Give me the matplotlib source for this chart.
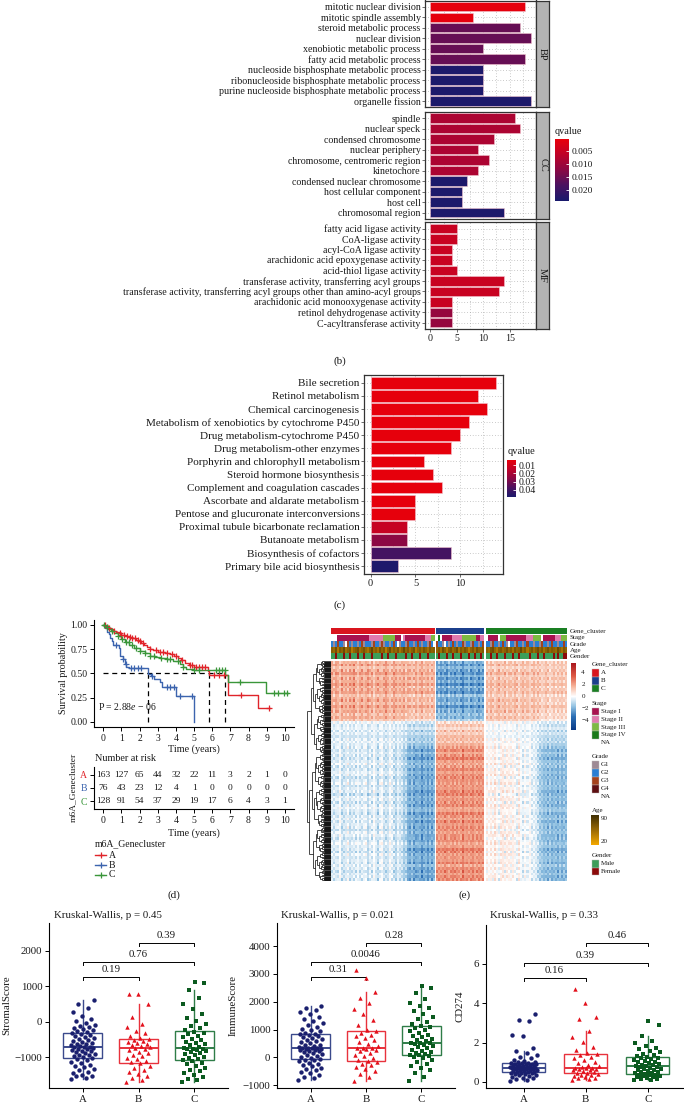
import numpy as np
import matplotlib
matplotlib.use("Agg")
import matplotlib.pyplot as plt
from matplotlib.colors import LinearSegmentedColormap, Normalize, to_rgba
from matplotlib.cm import ScalarMappable
from matplotlib.patches import Rectangle
from matplotlib.collections import LineCollection

plt.rcParams['font.family'] = ['Liberation Serif', 'DejaVu Serif']
plt.rcParams['mathtext.fontset'] = 'custom'
plt.rcParams['mathtext.rm'] = 'Liberation Serif'
plt.rcParams['mathtext.it'] = 'Liberation Serif:italic'

# ======================= DATA =======================
# (b) GO enrichment
bp_terms = ["mitotic nuclear division", "mitotic spindle assembly", "steroid metabolic process",
            "nuclear division", "xenobiotic metabolic process", "fatty acid metabolic process",
            "nucleoside bisphosphate metabolic process", "ribonucleoside bisphosphate metabolic process",
            "purine nucleoside bisphosphate metabolic process", "organelle fission"]
bp_counts = [18, 8, 17, 19, 10, 18, 10, 10, 10, 19]
bp_qvalues = [0.001, 0.001, 0.0155, 0.0155, 0.0155, 0.0155, 0.0235, 0.0235, 0.0235, 0.0235]

cc_terms = ["spindle", "nuclear speck", "condensed chromosome", "nuclear periphery",
            "chromosome, centromeric region", "kinetochore", "condensed nuclear chromosome",
            "host cellular component", "host cell", "chromosomal region"]
cc_counts = [16, 17, 12, 9, 11, 9, 7, 6, 6, 14]
cc_qvalues = [0.0085, 0.0085, 0.0085, 0.0085, 0.0085, 0.0085, 0.0235, 0.0235, 0.0235, 0.0235]

mf_terms = ["fatty acid ligase activity", "CoA-ligase activity", "acyl-CoA ligase activity",
            "arachidonic acid epoxygenase activity", "acid-thiol ligase activity",
            "transferase activity, transferring acyl groups",
            "transferase activity, transferring acyl groups other than amino-acyl groups",
            "arachidonic acid monooxygenase activity", "retinol dehydrogenase activity",
            "C-acyltransferase activity"]
mf_counts = [5, 5, 4, 4, 5, 14, 13, 4, 4, 4]
mf_qvalues = [0.005, 0.005, 0.005, 0.005, 0.005, 0.005, 0.005, 0.005, 0.011, 0.011]
go_qrange = (0.0006, 0.0239)
go_qticks = [0.005, 0.010, 0.015, 0.020]

# (c) KEGG enrichment
kegg_terms = ["Bile secretion", "Retinol metabolism", "Chemical carcinogenesis",
              "Metabolism of xenobiotics by cytochrome P450", "Drug metabolism-cytochrome P450",
              "Drug metabolism-other enzymes", "Porphyrin and chlorophyll metabolism",
              "Steroid hormone biosynthesis", "Complement and coagulation cascades",
              "Ascorbate and aldarate metabolism", "Pentose and glucuronate interconversions",
              "Proximal tubule bicarbonate reclamation", "Butanoate metabolism",
              "Biosynthesis of cofactors", "Primary bile acid biosynthesis"]
kegg_counts = [14, 12, 13, 11, 10, 9, 6, 7, 8, 5, 5, 4, 4, 9, 3]
kegg_qvalues = [0.0045, 0.0045, 0.0045, 0.0045, 0.0045, 0.0045, 0.0045, 0.0045, 0.0045,
                0.0045, 0.0045, 0.013, 0.026, 0.039, 0.048]
kegg_qrange = (0.0039, 0.049)
kegg_qticks = [0.01, 0.02, 0.03, 0.04]

# (d) Kaplan-Meier
km_A_time = [0, 0.12, 0.25, 0.4, 0.55, 0.7, 0.85, 1.0, 1.2, 1.4, 1.6, 1.8, 1.95, 2.1, 2.25, 2.4,
             2.55, 2.75, 3.0, 3.4, 3.7, 3.9, 4.1, 4.3, 4.5, 4.7, 5.0, 5.78, 5.85, 6.88, 8.55]
km_A_surv = [1.0, 0.985, 0.97, 0.955, 0.94, 0.925, 0.91, 0.895, 0.885, 0.875, 0.86, 0.845, 0.83,
             0.815, 0.795, 0.775, 0.75, 0.735, 0.72, 0.71, 0.695, 0.675, 0.655, 0.635, 0.61, 0.59,
             0.56, 0.52, 0.48, 0.28, 0.145]
km_A_end = 9.2
km_A_censor = [0.1, 0.3, 0.6, 0.9, 1.0, 1.15, 1.3, 1.45, 1.6, 1.75, 1.9, 2.05, 2.2, 2.6, 2.9, 3.1,
               3.3, 3.5, 3.8, 4.0, 4.35, 4.75, 4.9, 5.1, 5.3, 5.45, 5.6, 6.1, 6.4, 6.65, 7.6, 9.15]

km_B_time = [0, 0.12, 0.22, 0.3, 0.38, 0.47, 0.55, 0.88, 0.93, 1.07, 1.2, 1.27, 1.4, 2.48, 2.64,
             2.82, 3.1, 3.25, 4.02, 5.02]
km_B_surv = [1.0, 0.97, 0.93, 0.9, 0.86, 0.83, 0.79, 0.76, 0.68, 0.645, 0.6, 0.57, 0.55, 0.49, 0.47,
             0.445, 0.41, 0.36, 0.27, 0.0]
km_B_end = 5.02
km_B_censor = [0.7, 1.1, 1.25, 1.5, 1.7, 1.9, 2.1, 2.7, 3.5, 3.7, 3.9, 4.2, 4.9]

km_C_time = [0, 0.1, 0.25, 0.42, 0.6, 0.8, 1.0, 1.2, 1.44, 1.7, 2.0, 2.3, 2.55, 2.85, 3.1, 3.5,
             3.84, 4.2, 4.4, 4.58, 5.0, 6.72, 6.88, 8.95]
km_C_surv = [1.0, 0.98, 0.96, 0.94, 0.91, 0.88, 0.85, 0.82, 0.79, 0.76, 0.73, 0.705, 0.68, 0.665,
             0.655, 0.645, 0.63, 0.60, 0.57, 0.545, 0.53, 0.48, 0.41, 0.30]
km_C_end = 10.2
km_C_censor = [0.05, 0.2, 0.5, 0.8, 1.05, 1.25, 1.4, 1.6, 1.8, 2.0, 2.3, 2.6, 2.8, 3.2, 3.5, 3.7,
               4.1, 4.4, 5.0, 5.3, 6.2, 6.4, 6.55, 6.7, 7.55, 9.4, 9.6, 9.95, 10.1]
km_pvalue_text = "P = 2.88$e$ \u2212 06"

risk_times = [0, 1, 2, 3, 4, 5, 6, 7, 8, 9, 10]
risk_A = [163, 127, 65, 44, 32, 22, 11, 3, 2, 1, 0]
risk_B = [76, 43, 23, 12, 4, 1, 0, 0, 0, 0, 0]
risk_C = [128, 91, 54, 37, 29, 19, 17, 6, 4, 3, 1]

# (e) heatmap: column (sample) scores and row (gene) loadings, per cluster
hm_c1_A = [1.2, 0.9, 1.3, 1.1, 0.8, 1.4, 1.0, 1.2, 0.9, 1.3,
           1.1, 1.5, 1.0, 0.8, 1.2, 1.3, 0.9, 1.1, 1.4, 1.0,
           1.2, 0.7, 1.1, 1.3, 1.0, 0.9, 1.2, 1.4, 1.1, 0.8,
           1.0, 1.3, 1.2, 0.9, 1.1, 1.0, 1.3, 0.8, 1.2, 1.1,
           0.9, 1.0, 1.2, 0.8, 1.1, 1.3, 0.9, 1.0, 1.2, 0.8,
           1.1, 1.0]
hm_c2_A = [0.5, 0.2, 0.6, 0.3, 0.7, 0.4, 0.1, 0.5, 0.6, 0.3,
           0.4, 0.8, 0.2, 0.5, 0.3, 0.6, 0.4, 0.7, 0.2, 0.5,
           0.3, 0.6, 0.4, 0.1, 0.5, 0.7, 0.3, 0.4, 0.2, 0.6,
           0.5, 0.3, 0.0, 0.4, 0.2, 0.1, -0.2, -0.4, -0.9, -1.2,
           -0.8, -1.4, -1.1, -1.3, -0.9, -1.5, -1.2, -1.0, -1.4, -1.1,
           -1.3, -0.9]
hm_c3_A = [0.5, -0.8, 0.3, 0.7, -0.4, -0.9, 0.6, -0.3, 0.8, -0.6,
           0.4, -0.7, 0.9, -0.2, 0.5, -0.8, 0.3, 0.6, -0.5, -0.7,
           0.8, -0.4, 0.2, -0.9, 0.6, 0.4, -0.6, 0.7, -0.3, 0.5,
           -0.8, 0.9, -0.5, 0.3, -0.6, 0.7, -0.4, 0.8, -0.2, -0.7,
           0.5, -0.9, 0.6, 0.3, -0.5, 0.8, -0.6, 0.4, -0.3, 0.7,
           -0.8, 0.5]
hm_c1_B = [-1.5, -1.2, -1.6, -1.3, -1.4, -1.7, -1.1, -1.5, -1.3, -1.6,
           -1.4, -1.2, -1.5, -1.8, -1.3, -1.4, -1.1, -1.6, -1.5, -1.2,
           -1.4, -1.7, -1.3, -1.5]
hm_c2_B = [0.9, 1.1, 0.7, 1.0, 1.2, 0.8, 1.0, 0.9, 1.3, 0.8,
           1.1, 1.0, 0.7, 1.2, 0.9, 1.0, 1.1, 0.8, 1.2, 0.9,
           1.0, 0.8, 1.1, 0.9]
hm_c3_B = [-0.6, 0.8, -0.3, 0.5, -0.9, 0.4, 0.7, -0.5, 0.3, -0.8,
           0.6, -0.4, 0.9, -0.7, 0.2, 0.5, -0.6, 0.8, -0.3, 0.4,
           -0.9, 0.6, -0.5, 0.7]
hm_c1_C = [0.9, 0.7, 1.0, 0.8, 0.6, 0.9, 1.1, 0.7, 0.8, 1.0,
           0.6, 0.9, 0.8, 0.7, 1.0, 0.9, 0.5, 0.8, 1.0, 0.7,
           0.9, 0.6, 0.8, 1.0, 0.7, 0.9, 0.8, 0.6, 0.7, 0.9,
           0.8, 0.5, 0.7, 0.9, 0.6, 0.8, 0.7, 0.9, 0.6, 0.8]
hm_c2_C = [1.0, 0.7, 1.2, 0.8, 1.1, 0.9, 0.6, 1.0, 1.2, 0.8,
           0.9, 1.1, 0.7, 1.0, 0.8, 0.5, 0.9, 0.6, 0.3, 0.7,
           0.4, 0.6, 0.2, 0.5, 0.1, -0.2, -0.6, -0.9, -1.1, -0.8,
           -1.2, -1.0, -1.3, -0.9, -1.1, -1.4, -0.8, -1.2, -1.0, -1.1]
hm_c3_C = [0.7, -0.5, 0.4, -0.8, 0.6, 0.3, -0.7, 0.5, -0.4, 0.9,
           -0.6, 0.2, 0.8, -0.5, 0.4, -0.9, 0.6, -0.3, 0.7, -0.6,
           0.5, 0.3, -0.8, 0.4, -0.5, 0.9, -0.7, 0.6, -0.2, 0.5,
           -0.8, 0.7, -0.4, 0.3, -0.6, 0.8, -0.5, 0.4, -0.7, 0.6]
hm_r1 = [1.4, 1.8, 1.2, 1.6, 1.9, 1.3, 1.7, 1.5, 2.0, 1.4,
         1.6, 1.8, 1.1, 1.5, 1.7, 1.3, 1.9, 1.4, 1.6, 1.2,
         1.5, 1.0, -0.3, -0.6, -0.4, -0.7, -0.5, -0.8, -0.6, -0.5,
         -0.7, -0.8, -1.0, -0.7, -0.9, -1.1, -0.8, -0.6, -0.9, -1.0,
         -0.7, -0.8, -1.1, -0.9, -0.7, -1.0, -0.8, -0.9, -1.2, -0.7,
         -0.8, -1.0, -0.9, -0.6, -0.8, -1.1, -0.9, -0.7, -1.0, -0.8,
         -0.9, -1.1, -0.7, -0.8, -1.0, -0.9, -0.6, -0.8, -1.0, -1.1,
         -0.7, -0.9, -0.8, -1.0, -0.7, -0.9, -1.1, -0.8, -0.9, -1.0]
hm_r2 = [0.0, 0.1, -0.1, 0.0, 0.1, 0.0, -0.1, 0.1, 0.0, 0.2,
         0.0, -0.1, 0.1, 0.0, 0.2, 0.1, 0.0, 0.1, 0.2, 0.1,
         0.2, 0.3, 0.3, 0.4, 0.2, 0.5, 0.3, 0.4, 0.6, 0.5,
         0.7, 0.9, 1.1, 0.8, 1.0, 1.2, 0.9, 1.0, 0.8, 1.1,
         1.0, 1.2, 0.9, 1.0, 1.1, 0.8, 1.0, 1.3, 0.9, 1.0,
         1.1, 0.9, 1.2, 1.0, 0.8, 1.1, 1.0, 0.9, 1.2, 1.0,
         1.1, 0.8, 1.0, 1.2, 0.9, 1.1, 1.0, 0.9, 1.3, 1.0,
         1.1, 0.9, 1.0, 1.2, 0.8, 1.1, 1.0, 0.9, 1.2, 1.0]
hm_r3 = [0.6, -0.4, 0.3, -0.7, 0.5, 0.2, -0.6, 0.4, -0.3, 0.7,
         -0.5, 0.3, 0.6, -0.2, -0.6, 0.5, -0.4, 0.2, 0.7, -0.5,
         0.4, -0.3, -0.6, 0.5, 0.3, -0.7, 0.4, -0.2, 0.6, -0.5,
         0.3, 0.7, -0.4, 0.2, -0.6, 0.5, -0.3, 0.6, -0.7, 0.4,
         -0.2, 0.5, -0.6, 0.3, 0.7, -0.4, 0.2, -0.5, 0.6, -0.3,
         0.4, -0.7, 0.5, -0.2, 0.3, 0.6, -0.5, 0.4, -0.6, 0.2,
         0.7, -0.3, 0.5, -0.4, -0.6, 0.3, 0.6, -0.2, 0.4, -0.7,
         0.5, -0.3, 0.2, 0.6, -0.5, 0.4, -0.6, 0.3, -0.4, 0.7]
hm_range = (-5.6, 5.6)
hm_ticks = [-4, -2, 0, 2, 4]

stage_runs_A = [("N", 3), ("I", 16), ("II", 7), ("III", 6), ("I", 3), ("N", 1), ("II", 1), ("I", 10), ("II", 3), ("III", 2)]
stage_runs_B = [("N", 1), ("IV", 1), ("N", 1), ("I", 5), ("II", 5), ("III", 7), ("I", 2), ("II", 2)]
stage_runs_C = [("N", 1), ("I", 5), ("N", 1), ("III", 3), ("I", 10), ("II", 3), ("III", 4), ("N", 1), ("I", 6), ("II", 3), ("III", 3)]
grade_A = "2123221N3212212312221322131221232N12213221232122132"
grade_B = "3221N212321223122132" + "2123"
grade_C = "2213221232" + "1N22132212" + "3221221322" + "1232212232"
age_A = [62, 55, 70, 48, 66, 59, 73, 52, 61, 67, 45, 58, 64, 71, 53, 60, 68, 57, 49, 63,
         75, 56, 62, 51, 69, 58, 65, 44, 60, 72, 54, 63, 57, 67, 50, 61, 74, 59, 66, 53,
         62, 70, 47, 58, 64, 55, 68, 61, 52, 66, 59, 63]
age_B = [58, 66, 52, 71, 60, 47, 63, 69, 55, 62, 73, 50, 64, 57, 68, 61, 45, 59, 66, 54,
         70, 62, 57, 65]
age_C = [60, 53, 67, 72, 58, 49, 63, 66, 55, 61, 70, 57, 64, 51, 68, 59, 62, 74, 56, 65,
         48, 60, 67, 54, 63, 71, 58, 66, 52, 61, 69, 57, 64, 60, 55, 73, 62, 50, 66, 59]
gender_A = "MMFMMMFMMF" + "MMMFMMFMMM" + "FMMMMFMMFM" + "MMFMMMMFMM" + "FMMMFMMMFM" + "MM"
gender_B = "MFMMMFMMFM" + "MMFMMMFMMF" + "MMFM"
gender_C = "MMFMMFMMMF" + "MMMFMMFMMM" + "MFMMMFMMFM" + "MMMFMFMMFF"

# (f) boxplots
box_groups = ["A", "B", "C"]
stromal_A = [-1600, -1575, -1540, -1520, -1490, -1450, -1405, -1370, -1330, -1290, -1255, -1210, -1175, -1130, -1090, -1050,
             -1020, -995, -975, -950, -925, -905, -880, -860, -835, -815, -795, -775, -760, -740, -725, -712,
             -705, -690, -665, -640, -615, -590, -560, -535, -505, -480, -455, -425, -395, -370, -340, -310,
             -290, -265, -240, -215, -190, -160, -120, -80, -30, 20, 90, 170, 260, 380, 500, 620]
stromal_B = [-1690, -1640, -1580, -1530, -1470, -1420, -1360, -1300, -1240, -1170,
             -1145, -1100, -1060, -1010, -970, -925, -880, -840, -800, -765,
             -735, -705, -680, -650, -625, -600, -570, -545, -515, -485,
             -460, -400, -330, -250, -160, -60, 120, 490, 770, 790]
stromal_C = [-1690, -1650, -1600, -1550, -1500, -1450, -1400, -1350, -1300, -1250, -1200, -1150, -1110,
             -1085, -1050, -1015, -985, -950, -915, -885, -850, -820, -795, -775, -760,
             -755, -745, -700, -665, -630, -595, -560, -520, -480, -440, -400, -360, -320,
             -285, -240, -190, -130, -60, 20, 110, 220, 350, 500, 660, 900, 1100, 1120]
immune_A = [-800, -760, -700, -640, -580, -520, -470, -420, -370, -320, -270, -230, -190, -150, -110, -80,
            -60, -20, 20, 60, 100, 130, 160, 190, 215, 240, 260, 280, 300, 310, 318, 322,
            326, 345, 370, 400, 430, 460, 500, 540, 580, 620, 660, 700, 740, 780, 810, 825,
            835, 880, 930, 980, 1030, 1090, 1150, 1220, 1300, 1380, 1460, 1540, 1620, 1700, 1780, 1860]
immune_B = [-850, -720, -600, -500, -420, -350, -290, -230, -180, -150,
            -110, -20, 40, 100, 160, 210, 260, 300, 330, 340,
            352, 400, 470, 540, 610, 680, 750, 820, 890, 950,
            980, 1150, 1350, 1550, 1750, 1950, 2150, 2360, 2850, 3150]
immune_C = [-850, -700, -580, -470, -380, -300, -230, -160, -100, -40, 10, 45, 70,
            87, 120, 160, 200, 240, 280, 320, 360, 400, 440, 470, 500,
            520, 530, 570, 620, 670, 720, 770, 820, 880, 940, 1000, 1050, 1090,
            1120, 1180, 1280, 1370, 1460, 1560, 1660, 1760, 1860, 1960, 2100, 2300, 2480, 2565]
cd274_A = [0.06, 0.10, 0.14, 0.18, 0.22, 0.26, 0.30, 0.33, 0.36, 0.39, 0.42, 0.44, 0.46, 0.48, 0.50, 0.51,
           0.53, 0.55, 0.57, 0.59, 0.61, 0.63, 0.64, 0.66, 0.67, 0.68, 0.69, 0.70, 0.71, 0.72, 0.725, 0.73,
           0.735, 0.75, 0.77, 0.78, 0.80, 0.82, 0.83, 0.85, 0.86, 0.88, 0.89, 0.90, 0.91, 0.93, 0.94, 0.945,
           0.96, 0.99, 1.03, 1.08, 1.14, 1.20, 1.27, 1.35, 1.45, 1.55, 1.75, 2.35, 2.40, 3.10, 3.15, 3.45]
cd274_B = [0.10, 0.14, 0.18, 0.22, 0.26, 0.30, 0.34, 0.37, 0.40, 0.44,
           0.48, 0.52, 0.56, 0.60, 0.63, 0.66, 0.68, 0.70, 0.71, 0.72,
           0.74, 0.80, 0.88, 0.96, 1.04, 1.12, 1.20, 1.28, 1.35, 1.41,
           1.45, 1.60, 1.80, 2.05, 2.30, 2.60, 3.20, 3.30, 4.00, 4.70]
cd274_C = [0.08, 0.11, 0.14, 0.17, 0.20, 0.23, 0.26, 0.29, 0.32, 0.34, 0.36, 0.38, 0.40,
           0.44, 0.47, 0.50, 0.53, 0.56, 0.59, 0.62, 0.65, 0.68, 0.71, 0.74, 0.76,
           0.79, 0.81, 0.84, 0.88, 0.92, 0.96, 1.00, 1.04, 1.08, 1.12, 1.16, 1.20, 1.23,
           1.26, 1.30, 1.36, 1.42, 1.50, 1.58, 1.66, 1.75, 1.85, 1.97, 2.10, 2.35, 2.90, 3.10]
stromal_title = "Kruskal-Wallis, p = 0.45"
immune_title = "Kruskal-Wallis, p = 0.021"
cd274_title = "Kruskal-Wallis, p = 0.33"
stromal_pairs = [("A", "B", 1251, "0.19"), ("A", "C", 1690, "0.76"), ("B", "C", 2208, "0.39")]
immune_pairs = [("A", "B", 2899, "0.31"), ("A", "C", 3439, "0.0046"), ("B", "C", 4100, "0.28")]
cd274_pairs = [("A", "B", 5.26, "0.16"), ("A", "C", 6.03, "0.39"), ("B", "C", 7.04, "0.46")]

# ======================= FIGURE =======================
W, H = 684, 1103
fig = plt.figure(figsize=(W / 100, H / 100), dpi=100)
fig.patch.set_facecolor("white")


def px_ax(l, t, r, b):
    return fig.add_axes([l / W, 1 - b / H, (r - l) / W, (b - t) / H])


ov = px_ax(0, 0, W, H)
ov.set_xlim(0, W)
ov.set_ylim(H, 0)
ov.axis("off")
ov.set_zorder(10)
ov.patch.set_visible(False)

q_cmap = LinearSegmentedColormap.from_list(
    "q", [(0, "#E8000B"), (0.25, "#BE0228"), (0.5, "#8A0844"), (0.75, "#4A1260"), (1, "#1A1A6C")])
TXT = "#1a1a1a"
FRAME = "#333333"


def style_frame(ax):
    for s in ax.spines.values():
        s.set_color(FRAME)
        s.set_linewidth(0.9)


def enrich_bars(ax, terms, counts, qv, norm, xlim, xt, xminor, fs):
    n = len(terms)
    y = np.arange(n)
    ax.barh(y, counts, height=0.9, color=q_cmap(norm(np.array(qv))),
            edgecolor="#F2C4CE", linewidth=0.4, zorder=3)
    ax.set_xlim(*xlim)
    ax.set_ylim(n - 0.4, -0.6)
    ax.set_xticks(xt)
    ax.set_xticks(xminor, minor=True)
    ax.grid(True, which="both", axis="x", color="#9a9a9a", lw=0.5, ls=(0, (1, 3)))
    ax.grid(True, which="major", axis="y", color="#9a9a9a", lw=0.5, ls=(0, (1, 3)))
    ax.set_axisbelow(True)
    ax.set_yticks(y)
    ax.set_yticklabels(terms, fontsize=fs, color=TXT)
    ax.tick_params(axis="both", which="major", length=2, width=0.5, pad=1.5, color=FRAME)
    ax.tick_params(axis="x", which="minor", length=0)
    style_frame(ax)


def q_colorbar(ext, norm, ticks, fmt, fs):
    cax = px_ax(*ext)
    cb = fig.colorbar(ScalarMappable(norm=norm, cmap=q_cmap), cax=cax)
    cb.set_ticks(ticks)
    cb.set_ticklabels([fmt.format(v) for v in ticks])
    cb.outline.set_visible(False)
    cax.invert_yaxis()
    cax.tick_params(labelsize=fs, length=2.5, width=0.6, color="white", direction="in", pad=2, labelcolor=TXT)
    return cax


# ---------- (b) ----------
go_norm = Normalize(*go_qrange)
facets = [("BP", bp_terms, bp_counts, bp_qvalues, 0.5, 107.3),
          ("CC", cc_terms, cc_counts, cc_qvalues, 111.7, 219.0),
          ("MF", mf_terms, mf_counts, mf_qvalues, 222.3, 329.0)]
for k, (lab, terms, counts, qv, t, b) in enumerate(facets):
    ax = px_ax(425.4, t, 535.8, b)
    enrich_bars(ax, terms, counts, qv, go_norm, (-0.95, 19.95), [0, 5, 10, 15], [2.5, 7.5, 12.5, 17.5], 7.2)
    if k < 2:
        ax.tick_params(axis="x", labelbottom=False, length=0)
    else:
        ax.tick_params(axis="x", labelsize=7.2, labelcolor=TXT)
    sax = px_ax(536.3, t, 549.0, b)
    sax.set_facecolor("#B3B3B3")
    sax.set_xticks([])
    sax.set_yticks([])
    style_frame(sax)
    sax.text(0.5, 0.5, lab, rotation=-90, ha="center", va="center", fontsize=7.5,
             color=TXT, transform=sax.transAxes)

q_colorbar((555, 139.3, 568.5, 200.7), go_norm, go_qticks, "{:.3f}", 6.8)
ov.text(555, 131, "qvalue", fontsize=7.3, ha="left", va="center", color=TXT)
ov.text(340, 361, "(b)", fontsize=8, ha="center", va="center", color=TXT)

# ---------- (c) ----------
kegg_norm = Normalize(*kegg_qrange)
ax = px_ax(364.3, 375, 502.6, 574)
enrich_bars(ax, kegg_terms, kegg_counts, kegg_qvalues, kegg_norm, (-0.7, 14.7), [0, 5, 10], [2.5, 7.5, 12.5], 8)
ax.tick_params(axis="x", labelsize=7.5, labelcolor=TXT)
q_colorbar((507.4, 460, 516, 497.3), kegg_norm, kegg_qticks, "{:.2f}", 7)
ov.text(507.4, 451.7, "qvalue", fontsize=7.5, ha="left", va="center", color=TXT)
ov.text(340, 605, "(c)", fontsize=8, ha="center", va="center", color=TXT)

# ---------- (d) ----------
km_colors = {"A": "#E0242A", "B": "#3C64AE", "C": "#3A963A"}
km_data = {"A": (km_A_time, km_A_surv, km_A_end, km_A_censor),
           "B": (km_B_time, km_B_surv, km_B_end, km_B_censor),
           "C": (km_C_time, km_C_surv, km_C_end, km_C_censor)}
kax = px_ax(94.2, 619.9, 293.9, 726.7)
medians = []
for g in ["A", "B", "C"]:
    tt, ss, tend, cens = km_data[g]
    tt = np.array(tt, float)
    ss = np.array(ss, float)
    kax.step(np.append(tt, tend), np.append(ss, ss[-1]), where="post", color=km_colors[g], lw=1.0, zorder=3)
    ci = np.searchsorted(tt, np.array(cens), side="right") - 1
    kax.plot(cens, ss[ci], "+", ms=4, mew=0.9, color=km_colors[g], zorder=4)
    below = np.where(ss <= 0.5)[0]
    if len(below):
        medians.append(tt[below[0]])
kax.hlines(0.5, 0, max(medians), colors="k", linestyles=(0, (4, 3)), lw=0.9, zorder=2)
kax.vlines(medians, 0, 0.5, colors="k", linestyles=(0, (4, 3)), lw=0.9, zorder=2)
kax.text(-0.3, 0.16, km_pvalue_text, fontsize=7, ha="left", va="center", color=TXT)
kax.set_xlim(-0.5, 10.5)
kax.set_ylim(-0.05, 1.05)
kax.set_xticks(risk_times)
kax.set_yticks([0, 0.25, 0.5, 0.75, 1.0])
kax.set_yticklabels(["0.00", "0.25", "0.50", "0.75", "1.00"])
kax.spines["top"].set_visible(False)
kax.spines["right"].set_visible(False)
for s in ["left", "bottom"]:
    kax.spines[s].set_linewidth(0.8)
kax.tick_params(labelsize=7, length=3, width=0.7, pad=2, labelcolor=TXT)
ov.text(63, 673, "Survival probability", rotation=90, fontsize=7.3, ha="center", va="center", color=TXT)
ov.text(194, 749.3, "Time (years)", fontsize=7.3, ha="center", va="center", color=TXT)

rax = px_ax(94.2, 767.3, 293.9, 809.3)
risk = {"A": risk_A, "B": risk_B, "C": risk_C}
rpos = {"A": 2, "B": 1, "C": 0}
for g in ["A", "B", "C"]:
    for t, n in zip(risk_times, risk[g]):
        rax.text(t, rpos[g], str(n), ha="center", va="center", fontsize=6.8, color=TXT)
rax.set_xlim(-0.5, 10.5)
rax.set_ylim(-0.62, 2.55)
rax.set_xticks(risk_times)
rax.set_yticks([2, 1, 0])
rax.set_yticklabels(["A", "B", "C"])
for lbl, g in zip(rax.get_yticklabels(), ["A", "B", "C"]):
    lbl.set_color(km_colors[g])
rax.spines["top"].set_visible(False)
rax.spines["right"].set_visible(False)
for s in ["left", "bottom"]:
    rax.spines[s].set_linewidth(0.8)
rax.tick_params(labelsize=7, length=3, width=0.7, pad=2)
rax.tick_params(axis="x", labelcolor=TXT)
ov.text(95, 758.7, "Number at risk", fontsize=7.3, ha="left", va="center", color=TXT)
ov.text(194, 832.7, "Time (years)", fontsize=7.3, ha="center", va="center", color=TXT)
ov.text(72.7, 787, "m6A_Genecluster", rotation=90, fontsize=6.8, ha="center", va="center", color=TXT)
ov.text(95, 843.3, "m6A_Genecluster", fontsize=7, ha="left", va="center", color=TXT)
for g, yy in zip(["A", "B", "C"], [855.3, 865.3, 874.7]):
    ov.plot([95, 106], [yy, yy], color=km_colors[g], lw=1.0)
    ov.plot([100.5], [yy], "+", ms=4, mew=0.9, color=km_colors[g])
    ov.text(109, yy, g, fontsize=7, ha="left", va="center", color=TXT)
ov.text(173.6, 895, "(d)", fontsize=8, ha="center", va="center", color=TXT)

# ---------- (e) heatmap ----------
hm_cmap = LinearSegmentedColormap.from_list(
    "hm", [(0, "#0A3A86"), (0.2, "#2C6FB5"), (0.35, "#92C2E2"), (0.5, "#FFFFFF"),
           (0.65, "#F6B49A"), (0.8, "#DE5A45"), (1, "#A8151C")])
hm_norm = Normalize(*hm_range)
cluster_colors = {"A": "#D9151E", "B": "#1B3F8C", "C": "#1A7F23"}
stage_colors = {"I": "#A8124F", "II": "#E07AAE", "III": "#7DBA42", "IV": "#1A7A1A", "N": "#FFFFFF"}
grade_colors = {"1": "#9E8A95", "2": "#2A7FD4", "3": "#A4421C", "4": "#5E0F12", "N": "#FFFFFF"}
gender_colors = {"M": "#3C9E5A", "F": "#8C0A0A"}
age_cmap = LinearSegmentedColormap.from_list("age", ["#F3A800", "#9A6A06", "#3F2F02"])
age_norm = Normalize(20, 90)

hm_groups = [("A", hm_c1_A, hm_c2_A, hm_c3_A, stage_runs_A, grade_A, age_A, gender_A, 330.7, 434.3),
             ("B", hm_c1_B, hm_c2_B, hm_c3_B, stage_runs_B, grade_B, age_B, gender_B, 435.7, 483.7),
             ("C", hm_c1_C, hm_c2_C, hm_c3_C, stage_runs_C, grade_C, age_C, gender_C, 486.0, 566.7)]
ann_rows = [("Gene_cluster", 628.3, 634.0), ("Stage", 634.7, 640.7), ("Grade", 641.3, 647.0),
            ("Age", 647.7, 652.9), ("Gender", 653.6, 659.2)]
HM_TOP, HM_BOT = 660.7, 880.7
r1 = np.array(hm_r1)
r2 = np.array(hm_r2)
r3 = np.array(hm_r3)
for g, c1, c2, c3, sruns, grade, ages, gender, x0, x1 in hm_groups:
    n = len(c1)
    ax = px_ax(x0, 628.3, x1, HM_BOT)
    vals = (np.outer(r1, np.array(c1)) + np.outer(r2, np.array(c2))
            + np.outer(r3, np.array(c3)))
    ax.imshow(vals, cmap=hm_cmap, norm=hm_norm, extent=(0, n, HM_BOT, HM_TOP),
              aspect="auto", interpolation="nearest")
    stage_seq = [s for s, k in sruns for _ in range(k)]
    rows = [
        [to_rgba(cluster_colors[g])] * n,
        [to_rgba(stage_colors[s]) for s in stage_seq][:n],
        [to_rgba(grade_colors[c]) for c in grade][:n],
        [age_cmap(age_norm(a)) for a in ages][:n],
        [to_rgba(gender_colors[c]) for c in gender][:n],
    ]
    for colors, (_, yt, yb) in zip(rows, ann_rows):
        arr = np.array(colors)[None, :, :]
        ax.imshow(arr, extent=(0, len(colors), yb, yt), aspect="auto", interpolation="nearest")
    ax.set_xlim(0, n)
    ax.set_ylim(HM_BOT, 628.3)
    ax.axis("off")
for name, yt, yb in ann_rows:
    ov.text(569.5, (yt + yb) / 2, name, fontsize=5, ha="left", va="center", color=TXT)

# dendrogram of genes
dax = px_ax(306.7, HM_TOP, 330.7, HM_BOT)
dend_leaves = 400
split_fracs = [0.42, 0.58, 0.47, 0.63, 0.36, 0.52, 0.55, 0.44]
segs = []


def build(lo, hi, depth):
    if hi - lo == 1:
        return lo + 0.5, 0.0
    f = split_fracs[depth % len(split_fracs)]
    mid = lo + min(max(1, int(round((hi - lo) * f))), hi - lo - 1)
    y1, h1 = build(lo, mid, depth + 1)
    y2, h2 = build(mid, hi, depth + 1)
    h = 8.0 + np.log2(hi - lo) ** 1.5
    segs.extend([[(h1, y1), (h, y1)], [(h2, y2), (h, y2)], [(h, y1), (h, y2)]])
    return (y1 + y2) / 2, h


_, htop = build(0, dend_leaves, 0)
dax.add_collection(LineCollection(segs, colors="k", linewidths=0.5))
dax.set_xlim(htop * 1.01, 0)
dax.set_ylim(dend_leaves, 0)
dax.axis("off")

cax = px_ax(571, 662.7, 575.7, 730)
cb = fig.colorbar(ScalarMappable(norm=hm_norm, cmap=hm_cmap), cax=cax)
cb.set_ticks(hm_ticks)
cb.set_ticklabels([str(v).replace("-", "\u2212") for v in hm_ticks])
cb.outline.set_visible(False)
cax.tick_params(labelsize=5, length=0, pad=4, labelcolor=TXT)

# legends
LX, LW_ = 591.7, 7.3


def leg_box(yc, color):
    ov.add_patch(Rectangle((LX, yc - 3.8), LW_, 7.6, facecolor=color, edgecolor="#bbbbbb", lw=0.3))


ov.text(LX, 664.3, "Gene_cluster", fontsize=5, ha="left", va="center", color=TXT)
for g, yc in zip(["A", "B", "C"], [673.0, 680.8, 688.5]):
    leg_box(yc, cluster_colors[g])
    ov.text(600.9, yc, g, fontsize=5, ha="left", va="center", color=TXT)
ov.text(LX, 703.3, "Stage", fontsize=5, ha="left", va="center", color=TXT)
for s, yc in zip(["I", "II", "III", "IV"], [711.5, 719.3, 727.1, 734.9]):
    leg_box(yc, stage_colors[s])
    ov.text(600.9, yc, "Stage " + s, fontsize=5, ha="left", va="center", color=TXT)
ov.text(600.9, 742.7, "NA", fontsize=5, ha="left", va="center", color=TXT)
ov.text(LX, 756.7, "Grade", fontsize=5, ha="left", va="center", color=TXT)
for s, yc in zip(["1", "2", "3", "4"], [765.0, 773.0, 781.0, 789.0]):
    leg_box(yc, grade_colors[s])
    ov.text(600.9, yc, "G" + s, fontsize=5, ha="left", va="center", color=TXT)
ov.text(600.9, 797, "NA", fontsize=5, ha="left", va="center", color=TXT)
ov.text(LX, 810.7, "Age", fontsize=5, ha="left", va="center", color=TXT)
aax = px_ax(591.2, 815, 598.6, 845)
aax.imshow(np.linspace(90, 20, 60)[:, None], cmap=age_cmap, norm=age_norm, aspect="auto")
aax.axis("off")
ov.text(600.9, 818.3, "90", fontsize=5, ha="left", va="center", color=TXT)
ov.text(600.9, 841.7, "20", fontsize=5, ha="left", va="center", color=TXT)
ov.text(LX, 855.3, "Gender", fontsize=5, ha="left", va="center", color=TXT)
for s, lab, yc in [("M", "Male", 863.7), ("F", "Female", 871.3)]:
    leg_box(yc, gender_colors[s])
    ov.text(600.9, yc, lab, fontsize=5, ha="left", va="center", color=TXT)
ov.text(464.7, 895, "(e)", fontsize=8, ha="center", va="center", color=TXT)

# ---------- bottom boxplots ----------
pt_colors = ["#1A1F6E", "#E3101B", "#0B5A1F"]
edge_colors = ["#3B4A8C", "#E8323C", "#2F7D48"]
markers = ["o", "^", "s"]


def box_panel(ext, xlim, ylim, yticks, data, pairs, title, title_x, ylabel, ylabel_x):
    l, t, r, b = ext
    ax = px_ax(l, t, r, b)
    bp = ax.boxplot(data, positions=[1, 2, 3], widths=0.7, showfliers=False, showcaps=False,
                    patch_artist=True, zorder=2)
    for i in range(3):
        bp["boxes"][i].set(facecolor="white", edgecolor=edge_colors[i], linewidth=1.0)
        bp["medians"][i].set(color=edge_colors[i], linewidth=1.4)
        for w in bp["whiskers"][2 * i:2 * i + 2]:
            w.set(color=edge_colors[i], linewidth=1.0)
    for i, vals in enumerate(data):
        n = len(vals)
        offs = ((np.arange(n) * 0.618034) % 1 - 0.5) * 0.44
        ax.scatter(i + 1 + offs, vals, marker=markers[i], s=10, color=pt_colors[i], lw=0, zorder=3)
    ax.set_xlim(*xlim)
    ax.set_ylim(*ylim)
    pxu = (ylim[1] - ylim[0]) / (b - t)
    gi = {g: k + 1 for k, g in enumerate(box_groups)}
    for g1, g2, yv, lab in pairs:
        x1, x2 = gi[g1], gi[g2]
        ax.plot([x1, x1, x2, x2], [yv - 3 * pxu, yv, yv, yv - 3 * pxu], color="k", lw=0.7)
        ax.text((x1 + x2) / 2, yv + 7.5 * pxu, lab, ha="center", va="center", fontsize=7.8, color=TXT)
    ax.set_xticks([1, 2, 3])
    ax.set_xticklabels(box_groups)
    ax.set_yticks(yticks)
    ax.spines["top"].set_visible(False)
    ax.spines["right"].set_visible(False)
    for s in ["left", "bottom"]:
        ax.spines[s].set_linewidth(0.8)
    ax.tick_params(labelsize=7.8, length=3, width=0.7, pad=2, labelcolor=TXT)
    ov.text(title_x, 915, title, fontsize=7.8, ha="left", va="center", color=TXT)
    ov.text(ylabel_x, (t + b) / 2, ylabel, rotation=90, fontsize=7.8, ha="center", va="center", color=TXT)


box_panel((49.3, 923, 228, 1088.3), (0.4, 3.6), (-1876, 2780), [-1000, 0, 1000, 2000],
          [stromal_A, stromal_B, stromal_C], stromal_pairs, stromal_title, 54.5, "StromalScore", 7)
box_panel((277.4, 923.3, 454.7, 1088.3), (0.4, 3.6), (-1115, 4820), [-1000, 0, 1000, 2000, 3000, 4000],
          [immune_A, immune_B, immune_C], immune_pairs, immune_title, 281.4, "ImmuneScore", 233.5)
box_panel((486.3, 925, 684, 1088.3), (0.4, 0.4 + (684 - 486.3) / 62.1), (-0.32, 7.97), [0, 2, 4, 6],
          [cd274_A, cd274_B, cd274_C], cd274_pairs, cd274_title, 490, "CD274", 459.6)

fig.savefig("out.png", dpi=100)
